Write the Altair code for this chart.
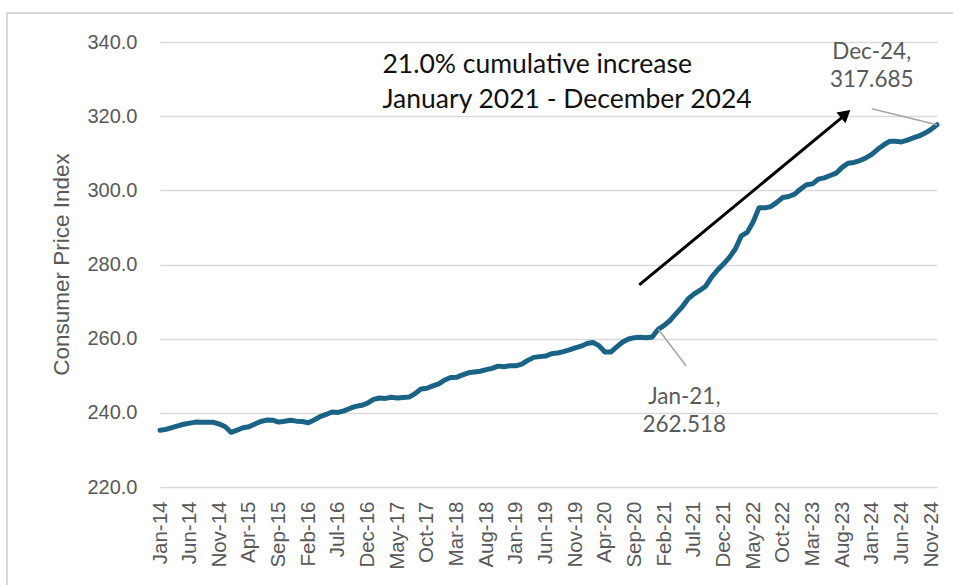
import altair as alt
import pandas as pd

MONTHS = ["Jan", "Feb", "Mar", "Apr", "May", "Jun", "Jul", "Aug", "Sep", "Oct", "Nov", "Dec"]
YEARS = list(range(14, 25))
month_labels = [f"{m}-{y:02d}" for y in YEARS for m in MONTHS]

cpi_2014 = [235.288, 235.547, 236.028, 236.468, 236.918, 237.231, 237.498, 237.460, 237.477, 237.430, 236.983, 236.252]
cpi_2015 = [234.747, 235.342, 235.976, 236.222, 237.001, 237.657, 238.034, 238.033, 237.498, 237.733, 238.017, 237.761]
cpi_2016 = [237.652, 237.336, 238.080, 238.992, 239.557, 240.222, 240.101, 240.545, 241.176, 241.741, 242.026, 242.637]
cpi_2017 = [243.618, 244.006, 243.892, 244.193, 244.004, 244.163, 244.243, 245.183, 246.435, 246.626, 247.284, 247.805]
cpi_2018 = [248.859, 249.529, 249.577, 250.227, 250.792, 251.018, 251.214, 251.663, 251.988, 252.594, 252.443, 252.723]
cpi_2019 = [252.673, 253.113, 254.148, 254.958, 255.155, 255.303, 255.926, 256.114, 256.527, 256.997, 257.539, 257.971]
cpi_2020 = [258.678, 258.963, 258.115, 256.389, 256.394, 257.797, 259.101, 259.918, 260.280, 260.388, 260.229, 260.474]
cpi_2021 = [262.518, 263.583, 264.910, 266.752, 268.452, 270.664, 271.994, 273.003, 274.138, 276.590, 278.524, 280.126]
cpi_2022 = [281.933, 284.182, 287.708, 288.663, 291.474, 295.328, 295.271, 295.620, 296.761, 298.062, 298.349, 298.990]
cpi_2023 = [300.356, 301.509, 301.744, 303.032, 303.365, 304.003, 304.628, 306.187, 307.288, 307.531, 308.024, 308.742]
cpi_2024 = [309.685, 311.054, 312.230, 313.207, 313.225, 313.049, 313.534, 314.121, 314.686, 315.454, 316.441, 317.685]

cpi = (cpi_2014 + cpi_2015 + cpi_2016 + cpi_2017 + cpi_2018 + cpi_2019 +
       cpi_2020 + cpi_2021 + cpi_2022 + cpi_2023 + cpi_2024)

df = pd.DataFrame({"i": list(range(len(cpi))), "label": month_labels, "cpi": cpi})

label_expr = "[" + ",".join(f"'{s}'" for s in month_labels) + "][datum.value]"
tick_values = list(range(0, len(cpi), 5))

GRAY = "#595959"
LINE = "#1a6385"

xs = alt.Scale(domain=[0, len(cpi) - 1], nice=False, zero=False)
ys = alt.Scale(domain=[220, 340], nice=False, zero=False)

frame = alt.Chart(pd.DataFrame({"a": [0]})).mark_rect(
    fill=None, stroke="#d9d9d9", strokeWidth=2
).encode(x=alt.value(-153), x2=alt.value(810), y=alt.value(-29), y2=alt.value(560))

line = alt.Chart(df).mark_line(color=LINE, strokeWidth=5, strokeJoin="round", strokeCap="round").encode(
    x=alt.X("i:Q", scale=xs, title=None,
            axis=alt.Axis(values=tick_values, tickCount=500, labelExpr=label_expr, labelAngle=270,
                          labelFont="Liberation Sans", labelFontSize=20.5, labelColor=GRAY,
                          labelPadding=14, ticks=False, domain=False, grid=False,
                          labelOverlap=False, labelBound=False, labelFlush=False)),
    y=alt.Y("cpi:Q", scale=ys, title="Consumer Price Index",
            axis=alt.Axis(values=[220, 240, 260, 280, 300, 320, 340], format=".1f",
                          labelFont="Liberation Sans", labelFontSize=20, labelColor=GRAY,
                          labelPadding=23, ticks=False, domain=False,
                          gridColor="#d9d9d9", gridWidth=1.5,
                          titleFont="Liberation Sans", titleFontSize=22.5, titleColor=GRAY,
                          titleFontWeight="normal", titleX=-99, titleY=222,
                          titleAngle=270, titleAlign="center", titleBaseline="middle")),
)

# leader lines
leaders = pd.DataFrame({
    "x": [120, 84], "y": [322.0, 262.518],
    "x2": [131, 88.7], "y2": [317.685, 252.7],
})
leader = alt.Chart(leaders).mark_rule(color="#a6a6a6", strokeWidth=1.5).encode(
    x=alt.X("x:Q", scale=xs), y=alt.Y("y:Q", scale=ys), x2="x2:Q", y2="y2:Q")

# arrow
arrow_df = pd.DataFrame({"x": [80.8], "y": [274.5], "x2": [115.4], "y2": [320.2]})
arrow_line = alt.Chart(arrow_df).mark_rule(color="black", strokeWidth=3).encode(
    x=alt.X("x:Q", scale=xs), y=alt.Y("y:Q", scale=ys), x2="x2:Q", y2="y2:Q")
head = alt.Chart(pd.DataFrame({"x": [115.6], "y": [320.6]})).mark_point(
    shape="triangle-up", filled=True, color="black", size=200, angle=50, opacity=1
).encode(x=alt.X("x:Q", scale=xs), y=alt.Y("y:Q", scale=ys))

# annotation text
ann = alt.Chart(pd.DataFrame({"x": [37.5], "y": [333.8],
                              "t": [["21.0% cumulative increase", "January 2021 - December 2024"]]})
                ).mark_text(font="Lato", fontSize=26.5, color="#111111", align="left",
                            baseline="middle", lineHeight=35).encode(
    x=alt.X("x:Q", scale=xs), y=alt.Y("y:Q", scale=ys), text="t")

labels_df = pd.DataFrame({
    "x": [120, 88.4], "y": [337.3, 244.3],
    "t": [["Dec-24,", "317.685"], ["Jan-21,", "262.518"]],
})
dlabels = alt.Chart(labels_df).mark_text(font="Lato", fontSize=22.5, color=GRAY, align="center",
                                         baseline="middle", lineHeight=28).encode(
    x=alt.X("x:Q", scale=xs), y=alt.Y("y:Q", scale=ys), text="t")

chart = alt.layer(frame, line, leader, arrow_line, head, ann, dlabels).properties(
    width=777, height=445,
    autosize=alt.AutoSizeParams(type="none"),
    padding={"left": 160, "top": 42, "right": 16, "bottom": 98},
    background="white",
).configure_view(stroke=None)

chart.save("out.html", embed_options={"renderer": "svg", "actions": False})
